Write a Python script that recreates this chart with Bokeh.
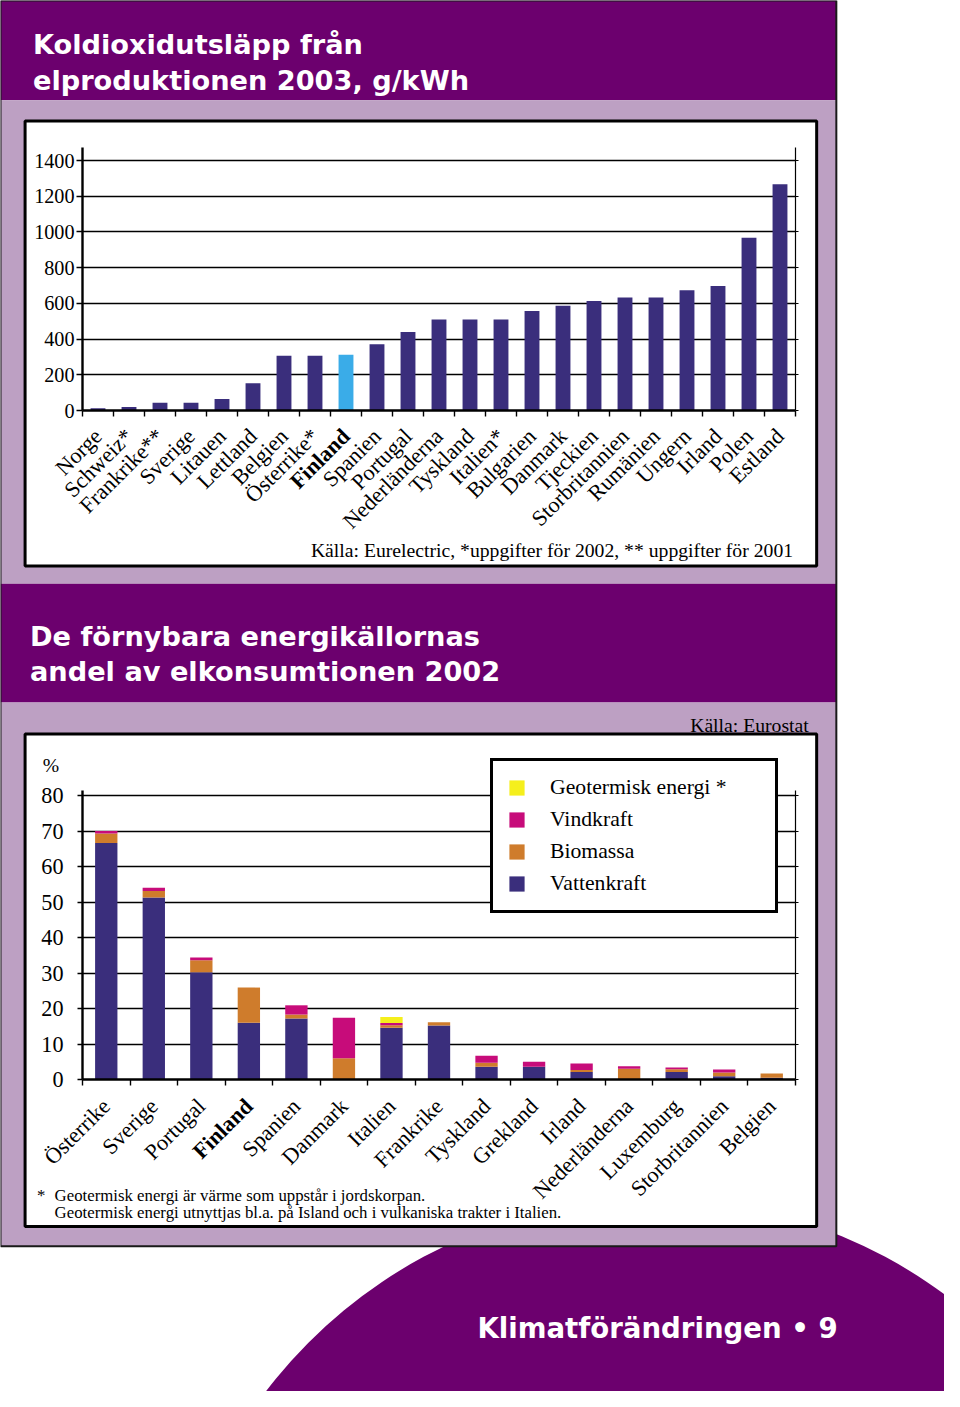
import numpy as np
from bokeh.plotting import figure
from bokeh.layouts import column
from bokeh.models import (ColumnDataSource, LinearAxis, FixedTicker, Range1d,
                          Legend, LegendItem, GridBox, Grid)
from bokeh.core.properties import value, field
from bokeh.embed import file_html
from bokeh.resources import INLINE

# ---------------- data ----------------
co2_countries = ["Norge", "Schweiz*", "Frankrike**", "Sverige", "Litauen", "Lettland",
                 "Belgien", "Österrike*", "Finland", "Spanien", "Portugal", "Nederländerna",
                 "Tyskland", "Italien*", "Bulgarien", "Danmark", "Tjeckien", "Storbritannien",
                 "Rumänien", "Ungern", "Irland", "Polen", "Estland"]
co2_values = [12, 20, 44, 44, 65, 153, 306, 306, 312, 371, 439, 509,
              509, 509, 557, 587, 613, 633, 633, 673, 697, 968, 1267]
co2_ticks = [0, 200, 400, 600, 800, 1000, 1200, 1400]

re_countries = ["Österrike", "Sverige", "Portugal", "Finland", "Spanien", "Danmark",
                "Italien", "Frankrike", "Tyskland", "Grekland", "Irland", "Nederländerna",
                "Luxemburg", "Storbritannien", "Belgien"]
re_hydro = [66.6, 51.3, 30.2, 16.0, 17.2, 0.0, 14.6, 15.2, 3.6, 3.6, 2.1, 0.0, 2.1, 0.9, 0.5]
re_bio = [2.7, 1.8, 3.4, 9.9, 1.1, 6.0, 0.7, 0.9, 1.1, 0.0, 0.6, 3.0, 0.8, 1.1, 1.2]
re_wind = [0.7, 0.9, 0.8, 0.0, 2.6, 11.4, 0.6, 0.0, 2.0, 1.4, 1.8, 0.7, 0.5, 0.8, 0.0]
re_geo = [0.0, 0.0, 0.0, 0.0, 0.0, 0.0, 1.7, 0.0, 0.0, 0.0, 0.0, 0.0, 0.0, 0.0, 0.0]
re_ticks = [0, 10, 20, 30, 40, 50, 60, 70, 80]
re_series = ["Vattenkraft", "Biomassa", "Vindkraft", "Geotermisk energi *"]

# ---------------- geometry / style ----------------
W, H = 944, 1391
REF_W, REF_H = 960, 1407
SX, SY = W / REF_W, H / REF_H


def ex(v):
    return int(round(v * SX))


def ey(v):
    return int(round(v * SY))


def fs(v):
    return f"{v * (SX + SY) / 2:.1f}px"


PURPLE = "#6C006E"
LILAC = "#BDA0C3"
NAVY = "#3A2E7C"
SKY = "#3AACE8"
ORANGE = "#CF7C2C"
MAGENTA = "#C70C7A"
YELLOW = "#F5EF1C"
SERIF = "Liberation Serif"
SANS = "DejaVu Sans"

# horizontal layout (reference pixels)
BOX_L, BOX_R = 28, 827
FR_L, FR_R = 83, 808

# ---------------- background page ----------------
bg = figure(width=W, height=H, x_range=Range1d(0, REF_W), y_range=Range1d(REF_H, 0),
            output_backend="svg", toolbar_location=None, x_axis_type=None, y_axis_type=None,
            min_border=0, outline_line_color=None, background_fill_color="white",
            border_fill_color="white", title=None)

bg.ellipse(x=[665], y=[1710], width=996, height=996, fill_color=PURPLE, line_color=None)
bg.quad(left=[0], right=[850], top=[0], bottom=[101], fill_color=PURPLE, line_color=None)
bg.quad(left=[0], right=[850], top=[101], bottom=[590], fill_color=LILAC, line_color=None)
bg.quad(left=[0], right=[850], top=[590], bottom=[710], fill_color=PURPLE, line_color=None)
bg.quad(left=[0], right=[850], top=[710], bottom=[1260], fill_color=LILAC, line_color=None)
bg.quad(left=[0], right=[850], top=[0], bottom=[1260], fill_color=None, line_color="#1a1a1a", line_width=2)
bg.quad(left=[25], right=[830], top=[122], bottom=[572], fill_color="white", line_color="black", line_width=3)
bg.quad(left=[25], right=[830], top=[742], bottom=[1240], fill_color="white", line_color="black", line_width=3)


def txt(x, y, s, size, font=SERIF, color="black", style="normal", align="left"):
    bg.text(x=[x], y=[y], text=[s], text_font=value(font), text_font_size=fs(size),
            text_font_style=style, text_color=color, text_align=align,
            text_baseline="alphabetic")


txt(33, 45, "Koldioxidutsläpp från", 27.6, SANS, "white", "bold")
txt(33, 81, "elproduktionen 2003, g/kWh", 27.6, SANS, "white", "bold")
txt(806, 556, "Källa: Eurelectric, *uppgifter för 2002, ** uppgifter för 2001", 20, align="right")
txt(30, 643, "De förnybara energikällornas", 27.6, SANS, "white", "bold")
txt(30, 679, "andel av elkonsumtionen 2002", 27.6, SANS, "white", "bold")
txt(822, 733, "Källa: Eurostat", 20, align="right")
txt(43, 773, "%", 20)
txt(37, 1209, "*", 17)
txt(55, 1209, "Geotermisk energi är värme som uppstår i jordskorpan.", 17)
txt(55, 1226, "Geotermisk energi utnyttjas bl.a. på Island och i vulkaniska trakter i Italien.", 17)
txt(485, 1343, "Klimatförändringen • 9", 28, SANS, "white", "bold")


def make_chart(n, ticks, top_px, frame_top, axis_y, bottom_px, ref_val, ref_y, tick_size,
               standoff, tick_out, bounds_top=None):
    # pixels per data unit, from a reference gridline
    ppu = (ey(axis_y) - ey(ref_y)) / ref_val
    y_end = (ey(axis_y) - ey(frame_top)) / ppu
    p = figure(width=ex(BOX_R) - ex(BOX_L), height=ey(bottom_px) - ey(top_px),
               x_range=Range1d(0, n), y_range=Range1d(0, y_end),
               output_backend="svg", toolbar_location=None, x_axis_type=None, y_axis_type=None,
               title=None, min_border_left=ex(FR_L) - ex(BOX_L),
               min_border_right=ex(BOX_R) - ex(FR_R),
               min_border_top=ey(frame_top) - ey(top_px),
               min_border_bottom=ey(bottom_px) - ey(axis_y),
               background_fill_color=None, border_fill_color=None, outline_line_color=None)
    bounds = (0, bounds_top) if bounds_top is not None else "auto"
    yax = LinearAxis(ticker=FixedTicker(ticks=ticks), axis_line_width=2.4, bounds=bounds,
                     major_tick_line_width=1.4, major_tick_out=tick_out, major_tick_in=0,
                     minor_tick_line_color=None, major_label_standoff=standoff,
                     major_label_text_font=SERIF, major_label_text_font_size=fs(tick_size),
                     major_label_text_color="black")
    p.add_layout(yax, "left")
    rax = LinearAxis(ticker=FixedTicker(ticks=ticks), axis_line_width=1.2, bounds=bounds,
                     major_tick_line_width=1.2, major_tick_out=3, major_tick_in=0,
                     minor_tick_line_color=None, major_label_text_font_size="0px",
                     major_label_standoff=0)
    p.add_layout(rax, "right")
    xax = LinearAxis(ticker=FixedTicker(ticks=list(range(n + 1))), axis_line_width=2.4,
                     major_tick_line_width=1.4, major_tick_out=6, major_tick_in=0,
                     minor_tick_line_color=None, major_label_text_font_size="0px",
                     major_label_standoff=0)
    p.add_layout(xax, "below")
    p.add_layout(Grid(dimension=1, ticker=yax.ticker, grid_line_color="black",
                      grid_line_width=1.3))
    return p


def make_strip(n, names, top_px, bottom_px, axis_y, label_y):
    # label strip with the same horizontal scale as the chart's frame
    unit = (ex(FR_R) - ex(FR_L)) / n
    x_start = -(ex(FR_L) - ex(BOX_L)) / unit
    x_end = n + (ex(BOX_R) - ex(FR_R)) / unit
    s = figure(width=ex(BOX_R) - ex(BOX_L), height=ey(bottom_px) - ey(top_px),
               x_range=Range1d(x_start, x_end),
               y_range=Range1d(axis_y - bottom_px, axis_y - top_px),
               output_backend="svg", toolbar_location=None, x_axis_type=None, y_axis_type=None,
               title=None, min_border=0, background_fill_color=None, border_fill_color=None,
               outline_line_color=None)
    src = ColumnDataSource(dict(x=[i + 0.5 for i in range(n)], y=[label_y] * n, text=names,
                                style=["bold" if c == "Finland" else "normal" for c in names]))
    s.text(x="x", y="y", text="text", source=src, angle=45, angle_units="deg",
           text_align="right", text_baseline="alphabetic", text_font=value(SERIF),
           text_font_size=value(fs(22.5)), text_font_style=field("style"), text_color="black")
    return column(s)


# ---------------- chart 1 ----------------
n1 = len(co2_countries)
src1 = ColumnDataSource(dict(x=[i + 0.5 for i in range(n1)], top=co2_values,
                             color=[SKY if c == "Finland" else NAVY for c in co2_countries]))
c1 = make_chart(n1, co2_ticks, 125, 149, 415, 428, 1400, 162.3, 20.5, 2, 6)
c1.vbar(x="x", top="top", width=0.48, bottom=0, fill_color="color", line_color=None, source=src1)
s1 = make_strip(n1, co2_countries, 428, 569, 415, -22)

# ---------------- chart 2 ----------------
n2 = len(re_countries)
src2 = ColumnDataSource(dict(x=[i + 0.5 for i in range(n2)], hydro=re_hydro, bio=re_bio,
                             wind=re_wind, geo=re_geo))
c2 = make_chart(n2, re_ticks, 748, 762, 1091, 1105, 80, 804, 22.5, 14, 5, bounds_top=81.5)
rs = c2.vbar_stack(["hydro", "bio", "wind", "geo"], x="x", width=0.47, source=src2,
                   fill_color=[NAVY, ORANGE, MAGENTA, YELLOW], line_color=None)
s2 = make_strip(n2, re_countries, 1105, 1237, 1091, -24)

items = [LegendItem(label=re_series[i], renderers=[rs[i]]) for i in [3, 2, 1, 0]]
leg = Legend(items=items, location=(ex(498) - ex(FR_L), ey(1091) - ey(924)),
             border_line_color="black", border_line_width=3, border_line_alpha=1.0,
             background_fill_color="white", background_fill_alpha=1.0,
             padding=14, spacing=7, margin=0,
             glyph_width=19, glyph_height=19, label_height=24, label_width=211,
             label_standoff=24, label_text_font=SERIF, label_text_font_size=fs(22),
             label_text_color="black")
c2.add_layout(leg)

# ---------------- page ----------------
edges_y = [0, 125, 428, 569, 748, 1105, 1237]
rows = [f"{ey(b) - ey(a)}px" for a, b in zip(edges_y[:-1], edges_y[1:])] + [f"{H - ey(1237)}px"]
cols = [f"{ex(BOX_L)}px", f"{ex(BOX_R) - ex(BOX_L)}px", f"{W - ex(BOX_R)}px"]
page = GridBox(children=[(bg, 0, 0, 7, 3), (c1, 1, 1), (s1, 2, 1), (c2, 4, 1), (s2, 5, 1)],
               rows=rows, cols=cols, spacing=0)

open("out.html", "w").write(file_html(page, INLINE))
